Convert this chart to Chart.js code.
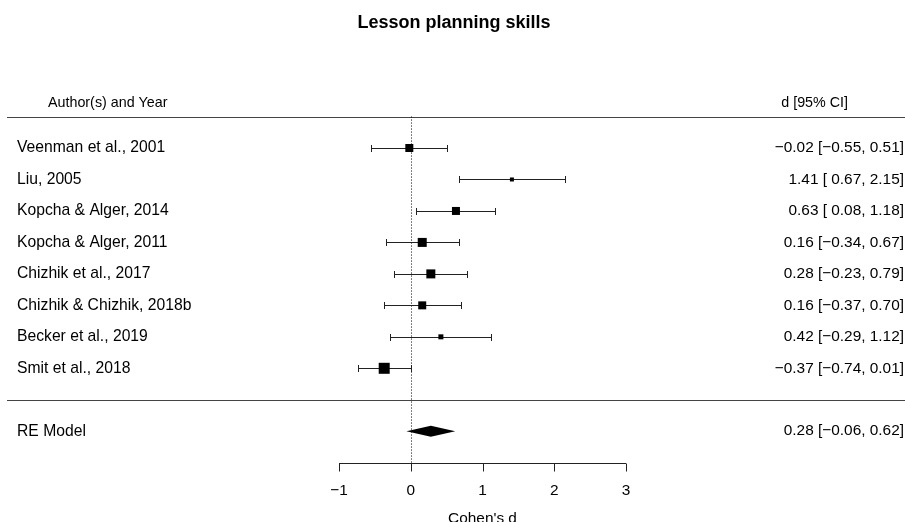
<!DOCTYPE html>
<html>
<head>
<meta charset="utf-8">
<script src="https://cdn.jsdelivr.net/npm/chart.js@4/dist/chart.umd.min.js"></script>
<style>
  html, body { margin: 0; padding: 0; background: #ffffff; }
  #wrap { width: 905px; height: 522px; position: relative; }
</style>
</head>
<body>
<div id="wrap"><canvas id="forest"></canvas></div>
<script>
// Study-level effect sizes (Cohen's d) with 95% confidence intervals
const studies = [
  'Veenman et al., 2001',
  'Liu, 2005',
  'Kopcha & Alger, 2014',
  'Kopcha & Alger, 2011',
  'Chizhik et al., 2017',
  'Chizhik & Chizhik, 2018b',
  'Becker et al., 2019',
  'Smit et al., 2018'
];
const effects = [-0.02, 1.41, 0.63, 0.16, 0.28, 0.16, 0.42, -0.37];
const ciLower = [-0.55, 0.67, 0.08, -0.34, -0.23, -0.37, -0.29, -0.74];
const ciUpper = [0.51, 2.15, 1.18, 0.67, 0.79, 0.70, 1.12, 0.01];

// Random-effects pooled estimate
const pooledLabel = 'RE Model';
const pooledEstimate = 0.28;
const pooledLower = -0.06;
const pooledUpper = 0.62;

const xTicks = [-1, 0, 1, 2, 3];
const chartTitle = 'Lesson planning skills';
const xAxisTitle = "Cohen's d";
const headerLeft = 'Author(s) and Year';
const headerRight = 'd [95% CI]';

// Studies are stacked from row k (top) down to row 1; pooled row sits at -1
const k = studies.length;
const rows = studies.map((_, i) => k - i);
const pooledRow = -1;
const axisRow = -2;

const FONT = '"Liberation Sans", Arial, Helvetica, sans-serif';

function fmt(v) {
  const s = Math.abs(v).toFixed(2);
  return (v < 0 ? '\u2212' : '') + s;
}
function ciText(est, lo, hi) {
  return fmt(est) + ' [' + (lo < 0 ? fmt(lo) : ' ' + fmt(lo)) + ', ' + fmt(hi) + ']';
}
function fmtTick(t) {
  return (t < 0 ? '\u2212' : '') + Math.abs(t);
}

const forestPlugin = {
  id: 'forestDecor',
  beforeDatasetsDraw(chart) {
    const { ctx, scales: { x, y } } = chart;
    const W = chart.width;
    ctx.save();

    // Horizontal rules under the header and above the pooled row
    ctx.strokeStyle = '#444';
    ctx.lineWidth = 1;
    [k + 1, 0].forEach(r => {
      const py = Math.round(y.getPixelForValue(r)) + 0.5;
      ctx.beginPath();
      ctx.moveTo(7, py);
      ctx.lineTo(W, py);
      ctx.stroke();
    });

    // Reference line at zero
    const x0 = Math.round(x.getPixelForValue(0)) + 0.5;
    ctx.strokeStyle = '#000';
    ctx.setLineDash([1, 2]);
    ctx.beginPath();
    ctx.moveTo(x0, y.getPixelForValue(k + 1));
    ctx.lineTo(x0, y.getPixelForValue(axisRow));
    ctx.stroke();
    ctx.setLineDash([]);

    // Confidence interval whiskers
    ctx.strokeStyle = '#222';
    studies.forEach((_, i) => {
      const py = Math.round(y.getPixelForValue(rows[i])) + 0.5;
      const xl = Math.round(x.getPixelForValue(ciLower[i])) + 0.5;
      const xr = Math.round(x.getPixelForValue(ciUpper[i])) + 0.5;
      ctx.beginPath();
      ctx.moveTo(xl, py);
      ctx.lineTo(xr, py);
      ctx.moveTo(xl, py - 3.5);
      ctx.lineTo(xl, py + 3.5);
      ctx.moveTo(xr, py - 3.5);
      ctx.lineTo(xr, py + 3.5);
      ctx.stroke();
    });

    // Pooled estimate diamond
    const dy = y.getPixelForValue(pooledRow);
    ctx.fillStyle = '#000';
    ctx.beginPath();
    ctx.moveTo(x.getPixelForValue(pooledLower), dy);
    ctx.lineTo(x.getPixelForValue(pooledEstimate), dy - 5.5);
    ctx.lineTo(x.getPixelForValue(pooledUpper), dy);
    ctx.lineTo(x.getPixelForValue(pooledEstimate), dy + 5.5);
    ctx.closePath();
    ctx.fill();

    // Bottom axis
    const ay = Math.round(y.getPixelForValue(axisRow)) + 0.5;
    ctx.strokeStyle = '#222';
    ctx.beginPath();
    ctx.moveTo(x.getPixelForValue(xTicks[0]), ay);
    ctx.lineTo(x.getPixelForValue(xTicks[xTicks.length - 1]), ay);
    xTicks.forEach(t => {
      const tx = Math.round(x.getPixelForValue(t)) + 0.5;
      ctx.moveTo(tx, ay);
      ctx.lineTo(tx, ay + 8);
    });
    ctx.stroke();

    // Text
    ctx.fillStyle = '#000';
    ctx.textBaseline = 'middle';
    ctx.font = 'bold 18px ' + FONT;
    ctx.textAlign = 'center';
    ctx.fillText(chartTitle, 454, y.getPixelForValue(11.96));

    ctx.font = '14.3px ' + FONT;
    ctx.textAlign = 'left';
    ctx.fillText(headerLeft, 48, y.getPixelForValue(9.43));
    ctx.textAlign = 'right';
    ctx.fillText(headerRight, 848, y.getPixelForValue(9.43));

    studies.forEach((s, i) => {
      const py = y.getPixelForValue(rows[i]);
      ctx.font = '15.7px ' + FONT;
      ctx.textAlign = 'left';
      ctx.fillText(s, 17, py);
      ctx.font = '15.4px ' + FONT;
      ctx.textAlign = 'right';
      ctx.fillText(ciText(effects[i], ciLower[i], ciUpper[i]), 904, py);
    });
    ctx.font = '15.7px ' + FONT;
    ctx.textAlign = 'left';
    ctx.fillText(pooledLabel, 17, dy);
    ctx.font = '15.4px ' + FONT;
    ctx.textAlign = 'right';
    ctx.fillText(ciText(pooledEstimate, pooledLower, pooledUpper), 904, dy);

    ctx.textAlign = 'center';
    xTicks.forEach(t => {
      ctx.fillText(fmtTick(t), x.getPixelForValue(t), y.getPixelForValue(-2.9));
    });
    ctx.fillText(xAxisTitle, x.getPixelForValue(1.0), y.getPixelForValue(-3.78));

    ctx.restore();
  }
};

// Pixel-scale calibration: -1 → 339px, 3 → 626px; row 1 → 368.3px, 31.47px per row
const pxPerUnit = (626 - 339) / 4;
const zeroPx = 339 + pxPerUnit;
const rowPx = 31.47;
const row1Px = 368.3;

new Chart(document.getElementById('forest'), {
  type: 'scatter',
  data: {
    datasets: [{
      data: effects.map((d, i) => ({ x: d, y: rows[i] })),
      pointStyle: 'rect',
      // marker side lengths (px) scale with study weight
      pointRadius: [8, 4, 8, 9, 9, 8, 5, 11].map(s => s / Math.SQRT2),
      backgroundColor: '#000',
      borderColor: '#000',
      borderWidth: 0,
      pointHoverRadius: 0
    }]
  },
  options: {
    responsive: true,
    maintainAspectRatio: false,
    animation: false,
    layout: { padding: 0, autoPadding: false },
    plugins: { legend: { display: false }, tooltip: { enabled: false }, title: { display: false } },
    events: [],
    scales: {
      x: {
        type: 'linear', display: false,
        min: -zeroPx / pxPerUnit,
        max: (905 - zeroPx) / pxPerUnit
      },
      y: {
        type: 'linear', display: false,
        min: 1 - (522 - row1Px) / rowPx,
        max: 1 + row1Px / rowPx
      }
    }
  },
  plugins: [forestPlugin]
});
</script>
</body>
</html>
